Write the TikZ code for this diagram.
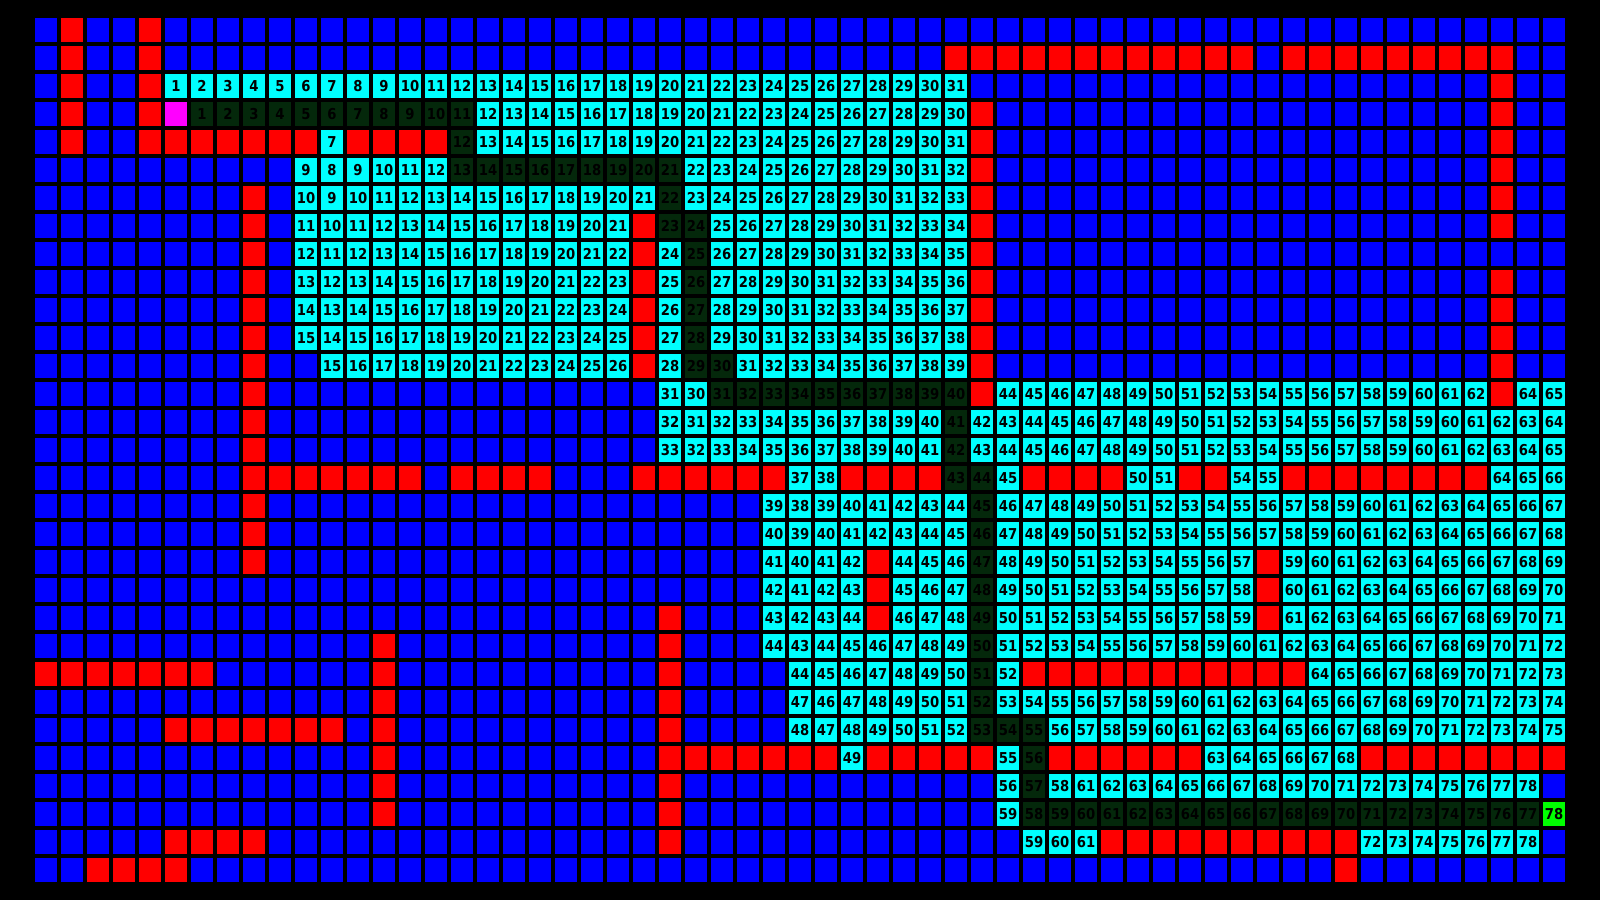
\documentclass[tikz,border=0pt]{standalone}
\usepackage{fontspec}
\newfontfamily\cellfont{DejaVu Sans}[FakeStretch=0.88]
\definecolor{routegreen}{RGB}{4,40,11}
\definecolor{freeblue}{RGB}{0,0,255}
\definecolor{wallred}{RGB}{255,0,0}
\definecolor{seencyan}{RGB}{0,255,255}
\definecolor{startmag}{RGB}{255,0,255}
\definecolor{goalgreen}{RGB}{0,255,0}
\definecolor{bgblack}{RGB}{0,0,0}
\newcount\gx
\newcount\gy
\tikzset{
  cell/.style={rectangle, minimum width=22pt, minimum height=24pt, inner sep=0pt, outer sep=0pt,
    text=bgblack, font=\cellfont\bfseries\fontsize{15}{15}\selectfont},
  freecell/.style={cell, fill=freeblue},
  wallcell/.style={cell, fill=wallred},
  seencell/.style={cell, fill=seencyan},
  routecell/.style={cell, fill=routegreen},
  startcell/.style={cell, fill=startmag},
  goalcell/.style={cell, fill=goalgreen}
}
\newcommand\gcell[2]{%
  \node[#1] (c-\the\gy-\the\gx) at ({46+26*\the\gx},{-30-28*\the\gy}) {#2};%
  \global\advance\gx by 1\relax}
\newcommand\gB{\gcell{freecell}{}}
\newcommand\gR{\gcell{wallcell}{}}
\newcommand\gS{\gcell{startcell}{}}
\newcommand\gC[1]{\gcell{seencell}{#1}}
\newcommand\gP[1]{\gcell{routecell}{#1}}
\newcommand\gE[1]{\gcell{goalcell}{#1}}
\newcommand\gBB[1]{\foreach \i in {1,...,#1}{\gB}}
\newcommand\gRR[1]{\foreach \i in {1,...,#1}{\gR}}
\newcommand\gCC[2]{\foreach \n in {#1,...,#2}{\gC{\n}}}
\newcommand\gPP[2]{\foreach \n in {#1,...,#2}{\gP{\n}}}
\newcommand\grow[1]{\global\gx=0\relax #1\global\advance\gy by 1\relax}
\begin{document}
\begin{tikzpicture}[x=1pt,y=1pt]
\useasboundingbox (0,0) rectangle (1600,-900);
\fill[bgblack] (0,0) rectangle (1600,-900);
\global\gy=0\relax
\grow{\gB\gR\gB\gB\gR\gBB{54}}
\grow{\gB\gR\gB\gB\gR\gBB{30}\gRR{12}\gB\gRR{9}\gBB{2}}
\grow{\gB\gR\gB\gB\gR\gCC{1}{31}\gBB{20}\gR\gBB{2}}
\grow{\gB\gR\gB\gB\gR\gS\gPP{1}{11}\gCC{12}{30}\gR\gBB{19}\gR\gBB{2}}
\grow{\gB\gR\gB\gB\gRR{7}\gC{7}\gRR{4}\gP{12}\gCC{13}{31}\gR\gBB{19}\gR\gBB{2}}
\grow{\gBB{10}\gC{9}\gC{8}\gCC{9}{12}\gPP{13}{21}\gCC{22}{32}\gR\gBB{19}\gR\gBB{2}}
\grow{\gBB{8}\gR\gB\gC{10}\gC{9}\gCC{10}{21}\gP{22}\gCC{23}{33}\gR\gBB{19}\gR\gBB{2}}
\grow{\gBB{8}\gR\gB\gC{11}\gC{10}\gCC{11}{21}\gR\gPP{23}{24}\gCC{25}{34}\gR\gBB{19}\gR\gBB{2}}
\grow{\gBB{8}\gR\gB\gC{12}\gC{11}\gCC{12}{22}\gR\gC{24}\gP{25}\gCC{26}{35}\gR\gBB{22}}
\grow{\gBB{8}\gR\gB\gC{13}\gC{12}\gCC{13}{23}\gR\gC{25}\gP{26}\gCC{27}{36}\gR\gBB{19}\gR\gBB{2}}
\grow{\gBB{8}\gR\gB\gC{14}\gC{13}\gCC{14}{24}\gR\gC{26}\gP{27}\gCC{28}{37}\gR\gBB{19}\gR\gBB{2}}
\grow{\gBB{8}\gR\gB\gC{15}\gC{14}\gCC{15}{25}\gR\gC{27}\gP{28}\gCC{29}{38}\gR\gBB{19}\gR\gBB{2}}
\grow{\gBB{8}\gR\gBB{2}\gCC{15}{26}\gR\gC{28}\gPP{29}{30}\gCC{31}{39}\gR\gBB{19}\gR\gBB{2}}
\grow{\gBB{8}\gR\gBB{15}\gC{31}\gC{30}\gPP{31}{40}\gR\gCC{44}{62}\gR\gC{64}\gC{65}}
\grow{\gBB{8}\gR\gBB{15}\gC{32}\gC{31}\gCC{32}{40}\gP{41}\gCC{42}{64}}
\grow{\gBB{8}\gR\gBB{15}\gC{33}\gC{32}\gCC{33}{41}\gP{42}\gCC{43}{65}}
\grow{\gBB{8}\gRR{7}\gB\gRR{4}\gBB{3}\gRR{6}\gC{37}\gC{38}\gRR{4}\gPP{43}{44}\gC{45}\gRR{4}\gC{50}\gC{51}\gRR{2}\gC{54}\gC{55}\gRR{8}\gCC{64}{66}}
\grow{\gBB{8}\gR\gBB{19}\gC{39}\gC{38}\gCC{39}{44}\gP{45}\gCC{46}{67}}
\grow{\gBB{8}\gR\gBB{19}\gC{40}\gC{39}\gCC{40}{45}\gP{46}\gCC{47}{68}}
\grow{\gBB{8}\gR\gBB{19}\gC{41}\gC{40}\gC{41}\gC{42}\gR\gCC{44}{46}\gP{47}\gCC{48}{57}\gR\gCC{59}{69}}
\grow{\gBB{28}\gC{42}\gC{41}\gC{42}\gC{43}\gR\gCC{45}{47}\gP{48}\gCC{49}{58}\gR\gCC{60}{70}}
\grow{\gBB{24}\gR\gBB{3}\gC{43}\gC{42}\gC{43}\gC{44}\gR\gCC{46}{48}\gP{49}\gCC{50}{59}\gR\gCC{61}{71}}
\grow{\gBB{13}\gR\gBB{10}\gR\gBB{3}\gC{44}\gC{43}\gCC{44}{49}\gP{50}\gCC{51}{72}}
\grow{\gRR{7}\gBB{6}\gR\gBB{10}\gR\gBB{4}\gC{44}\gCC{45}{50}\gP{51}\gC{52}\gRR{11}\gCC{64}{73}}
\grow{\gBB{13}\gR\gBB{10}\gR\gBB{4}\gC{47}\gCC{46}{51}\gP{52}\gCC{53}{74}}
\grow{\gBB{5}\gRR{7}\gB\gR\gBB{10}\gR\gBB{4}\gC{48}\gCC{47}{52}\gPP{53}{55}\gCC{56}{75}}
\grow{\gBB{13}\gR\gBB{10}\gRR{7}\gC{49}\gRR{5}\gC{55}\gP{56}\gRR{6}\gCC{63}{68}\gRR{8}}
\grow{\gBB{13}\gR\gBB{10}\gR\gBB{12}\gC{56}\gP{57}\gC{58}\gCC{61}{78}\gB}
\grow{\gBB{13}\gR\gBB{10}\gR\gBB{12}\gC{59}\gPP{58}{77}\gE{78}}
\grow{\gBB{5}\gRR{4}\gBB{15}\gR\gBB{13}\gCC{59}{61}\gRR{10}\gCC{72}{78}\gB}
\grow{\gBB{2}\gRR{4}\gBB{44}\gR\gBB{8}}
\end{tikzpicture}
\end{document}
